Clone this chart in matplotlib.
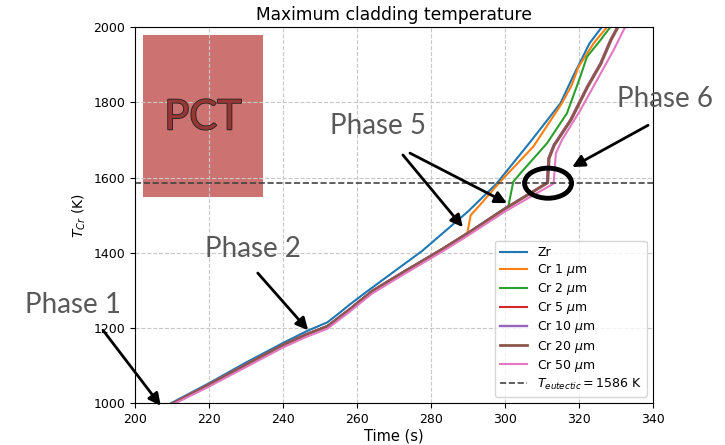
import matplotlib
matplotlib.use('Agg')
import matplotlib.pyplot as plt
import matplotlib.patheffects as pe
from matplotlib.patches import Rectangle, Ellipse

# common lower branch of the Cr-coated curves (before the eutectic jump)
low_t = [210.3, 220, 230, 240, 246, 252, 258, 264, 272, 283, 290, 300, 311.3]
low_T = [1000, 1050, 1103, 1155, 1182, 1205, 1250, 1298, 1346, 1410, 1453, 1518, 1586]

zr_t = [209.8, 220, 230, 240, 246.5, 252, 255, 258, 262, 270, 277.6, 290, 297.7, 306.8, 314.9, 318.5, 322.8, 326.1]
zr_T = [1000, 1053, 1108, 1160, 1192, 1215, 1238, 1262, 1292, 1350, 1405, 1510, 1584, 1695, 1797, 1872, 1957, 2000]

cr1_up_t = [289.8, 290.7, 293.2, 298.2, 307.6, 315.3, 318.0, 319.8, 323.9, 327.5]
cr1_up_T = [1453, 1500, 1527, 1584, 1682, 1797, 1846, 1894, 1957, 2000]

cr2_up_t = [300.9, 302.2, 304.1, 311.3, 316.7, 320.3, 322.1, 325.7, 328.4]
cr2_up_T = [1525, 1589, 1611, 1691, 1771, 1868, 1921, 1965, 2000]

cr5_up_t = [311.3, 311.7, 313.1, 317.6, 322.1, 325.7, 328.4, 330.3]
cr5_up_T = [1586, 1651, 1686, 1753, 1841, 1903, 1965, 2000]

cr50_t = [211.0, 220, 230, 240, 246, 252, 258, 264, 272, 283, 290, 300, 313.1, 313.7, 315.3, 320.3, 324.8, 329.3, 332.4]
cr50_T = [1000, 1044, 1096, 1148, 1175, 1198, 1243, 1291, 1339, 1403, 1446, 1510, 1584, 1664, 1699, 1779, 1859, 1939, 2000]

t_eut = 1586

labels = ['Zr', r'Cr 1 $\mu$m', r'Cr 2 $\mu$m', r'Cr 5 $\mu$m', r'Cr 10 $\mu$m', r'Cr 20 $\mu$m', r'Cr 50 $\mu$m']
colors = ['#1f77b4', '#ff7f0e', '#2ca02c', '#d62728', '#9467bd', '#8c564b', '#e377c2']

fig = plt.figure(figsize=(7.25, 4.45), dpi=100)
ax = fig.add_axes([0.186, 0.094, 0.715, 0.845])

ax.plot(zr_t, zr_T, color=colors[0], lw=1.5, label=labels[0])
ax.plot(low_t[:10] + cr1_up_t, low_T[:10] + cr1_up_T, color=colors[1], lw=1.5, label=labels[1])
ax.plot(low_t[:11] + cr2_up_t, low_T[:11] + cr2_up_T, color=colors[2], lw=1.5, label=labels[2])
ax.plot(low_t[:12] + cr5_up_t, low_T[:12] + cr5_up_T, color=colors[3], lw=1.5, label=labels[3])
ax.plot(low_t[:12] + cr5_up_t, low_T[:12] + cr5_up_T, color=colors[4], lw=1.7, label=labels[4])
ax.plot([t + 0.2 for t in low_t[:12] + cr5_up_t], low_T[:12] + cr5_up_T, color=colors[5], lw=2.0, label=labels[5])
ax.plot(cr50_t, cr50_T, color=colors[6], lw=1.5, label=labels[6])
ax.axhline(t_eut, color='#444444', ls='--', lw=1.2, label=r'$T_{eutectic}=1586$ K')

ax.set_xlim(200, 340)
ax.set_ylim(1000, 2000)
ax.set_xticks(range(200, 341, 20))
ax.set_yticks(range(1000, 2001, 200))
ax.tick_params(labelsize=9)
ax.grid(True, ls='--', color='#c8c8c8', lw=0.8)
ax.set_xlabel('Time (s)', fontsize=10.5, labelpad=2)
ax.set_ylabel(r'$T_{Cr}$ (K)', fontsize=10)
ax.set_title('Maximum cladding temperature', fontsize=12.3, pad=5)
ax.legend(loc='lower right', fontsize=9, handlelength=2.2, labelspacing=0.25)

# PCT box
ax.add_patch(Rectangle((202.2, 1548), 32.4, 431, facecolor='#c0504d', alpha=0.8, edgecolor='none', zorder=1.5))
ax.text(218.4, 1760, 'PCT', fontsize=30, color='#953735', ha='center', va='center', family='Lato',
        path_effects=[pe.withStroke(linewidth=1.2, foreground='#222222')], zorder=3)

# phase annotations
phase_color = '#595959'
for txt, px, py in [('Phase 1', 25, 313), ('Phase 2', 205, 257), ('Phase 5', 330, 134), ('Phase 6', 617, 107)]:
    fig.text(px / 725, 1 - py / 445, txt, fontsize=20, color=phase_color, family='Lato', va='baseline')

arrows = [((191.4, 1194), (207.0, 993)),
          ((233.2, 1346), (246.8, 1194)),
          ((272.4, 1660), (288.6, 1468)),
          ((274.3, 1665), (300.5, 1532)),
          ((338.6, 1739), (318.1, 1628))]
for tail, head in arrows:
    ax.annotate('', xy=head, xytext=tail, annotation_clip=False,
                arrowprops=dict(arrowstyle='-|>', color='black', lw=2, mutation_scale=18, shrinkA=0, shrinkB=0))

ax.add_patch(Ellipse((311.6, 1585), 12.7, 80, fill=False, edgecolor='black', lw=3.5, zorder=4))

fig.savefig('out.png', dpi=100, facecolor='white')
